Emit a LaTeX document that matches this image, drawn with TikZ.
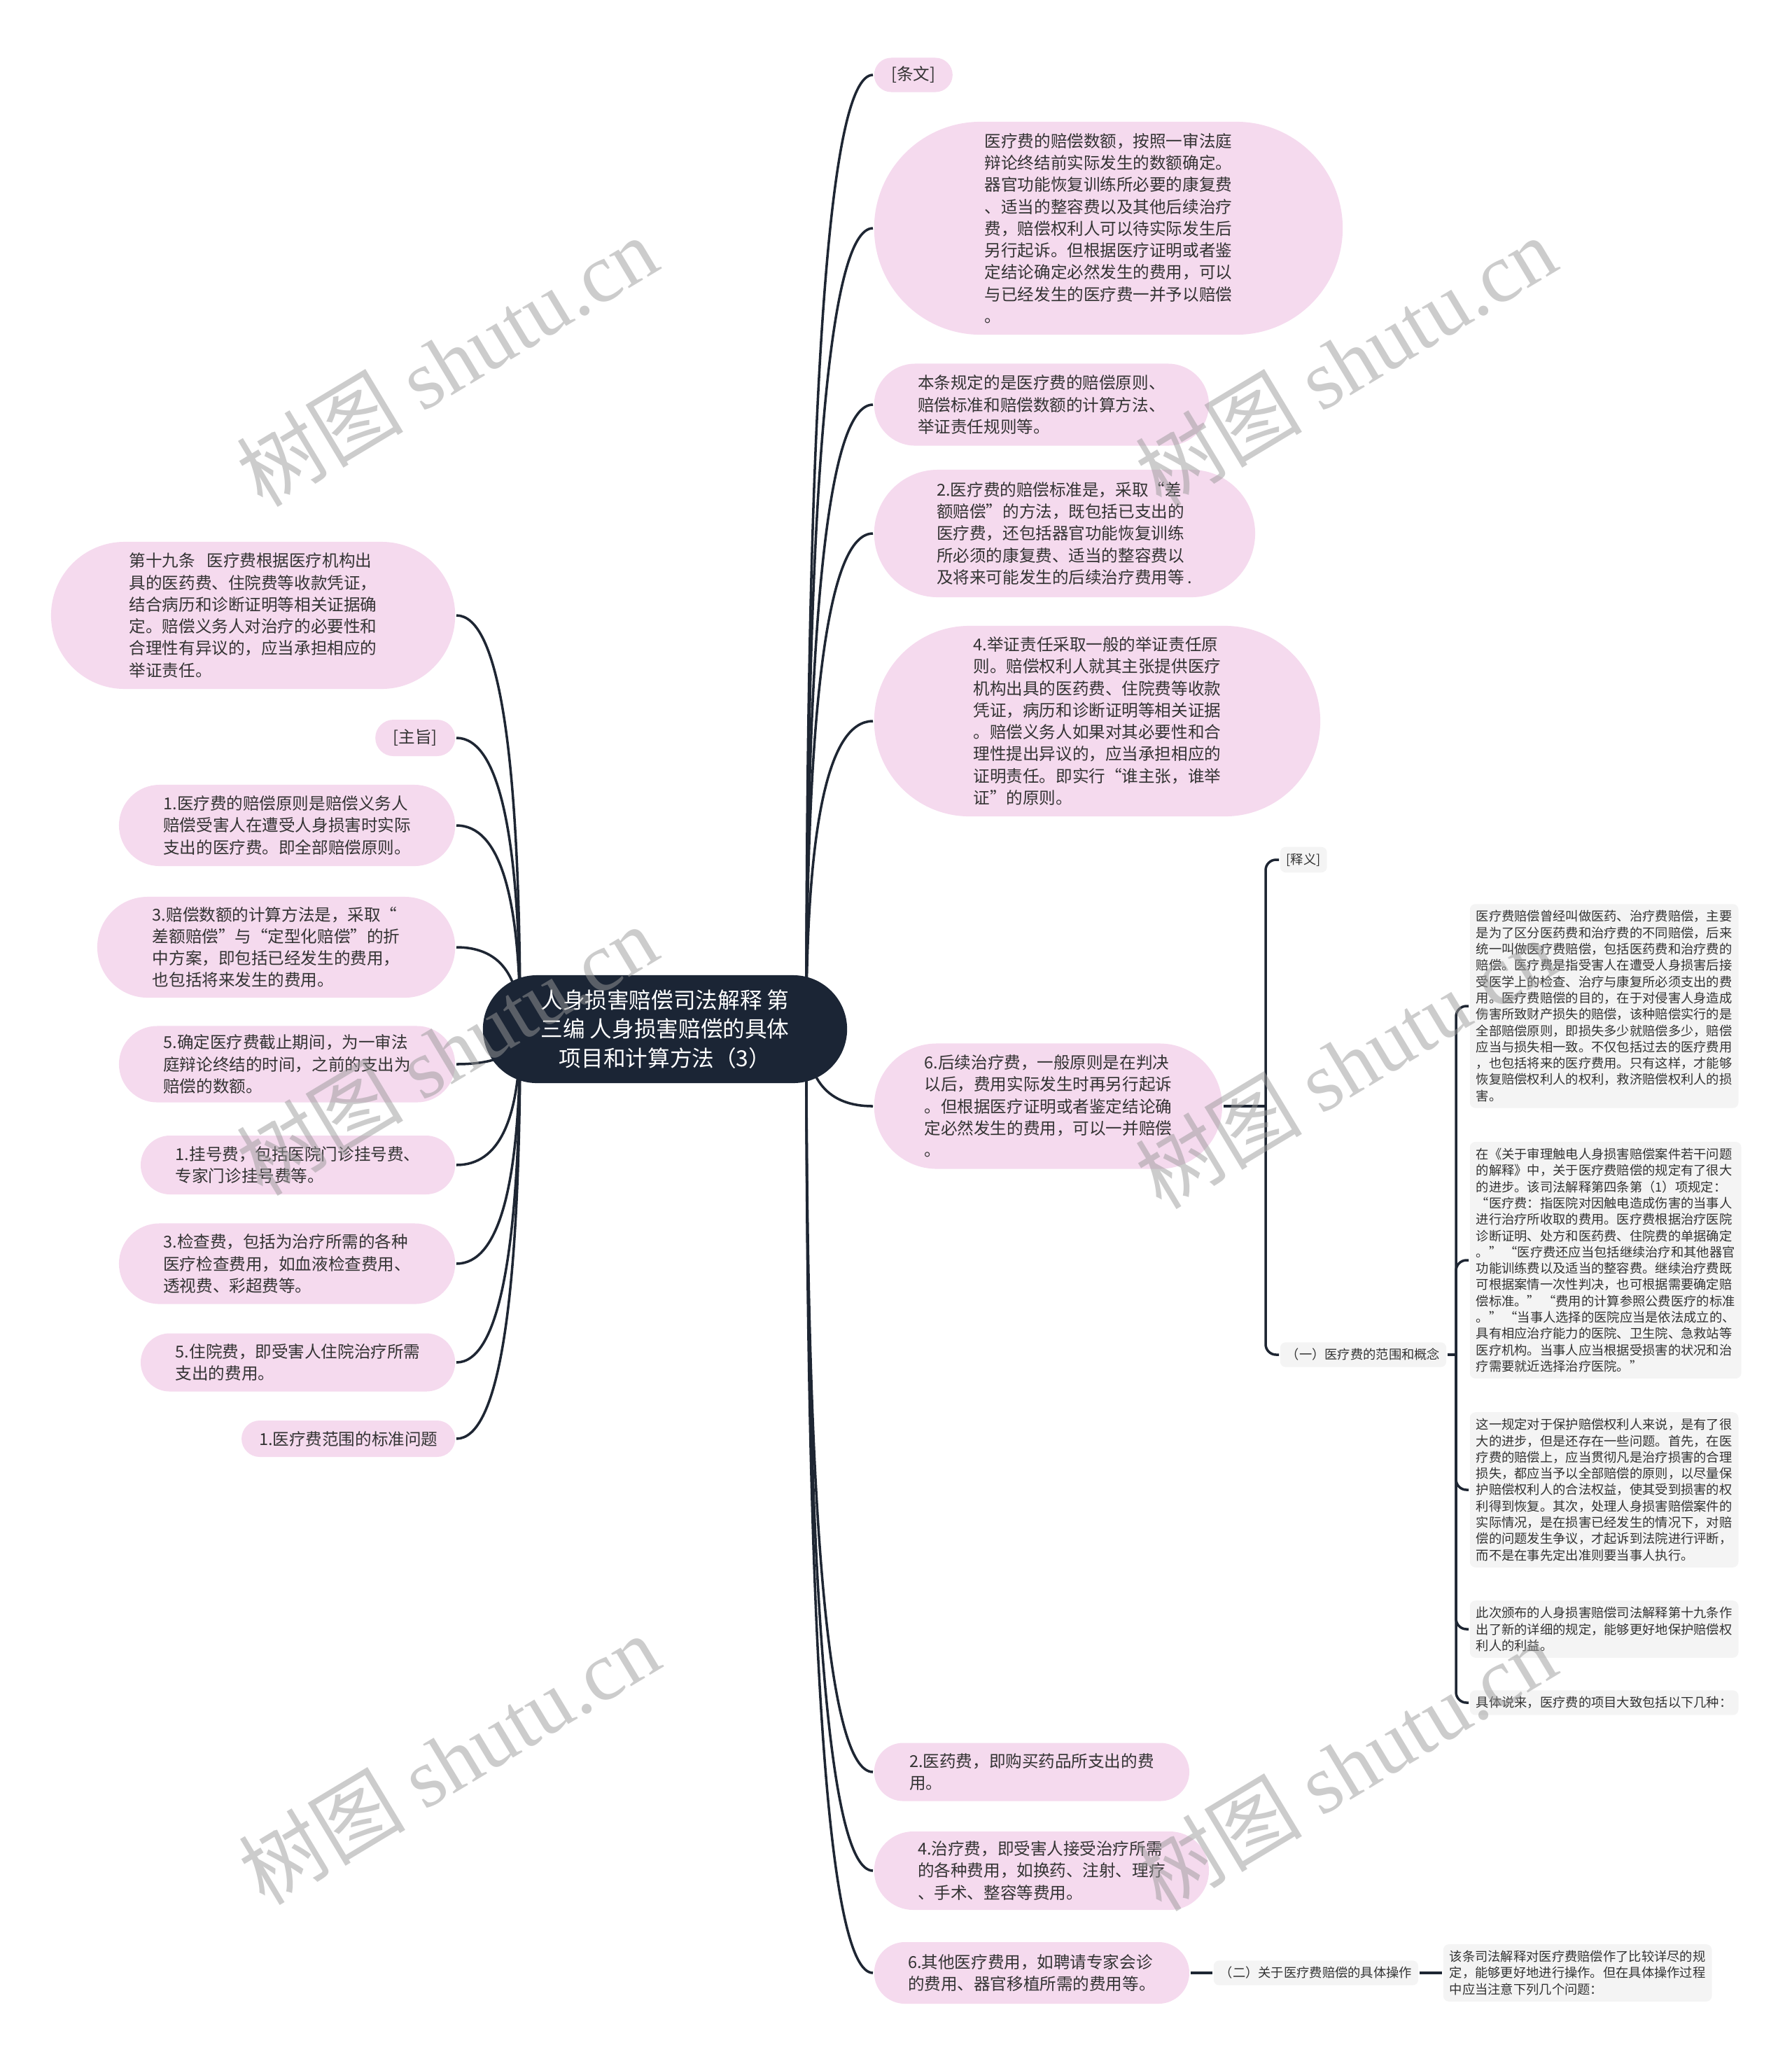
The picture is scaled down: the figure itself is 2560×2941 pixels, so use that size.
\documentclass[tikz,border=0pt]{standalone}
\usepackage{fontspec}
\setmainfont{Noto Sans CJK SC}
\newfontfamily\wmfont{Liberation Serif}
\usetikzlibrary{calc, backgrounds}
\definecolor{cpink}{HTML}{F5DAEE}
\definecolor{cgrey}{HTML}{F4F4F4}
\definecolor{cnavy}{HTML}{1B2535}
\definecolor{cline}{HTML}{1E2633}
\definecolor{ctext}{HTML}{333333}
\definecolor{cmark}{HTML}{9A9A9A}
\tikzset{
  every picture/.style={line width=1pt},
  hub/.style={fill=cnavy, text=white, rounded corners=0.77cm, align=center, font=\fontsize{9pt}{11.7pt}\selectfont},
  pill/.style={fill=cpink, rounded corners=#1, align=left, text=ctext, inner xsep=0pt, inner ysep=1pt, font=\fontsize{6.7pt}{8.9pt}\selectfont},
  gbox/.style={fill=cgrey, rounded corners=0.08cm, align=left, text=ctext, inner xsep=0.09cm, inner ysep=0.09cm, font=\fontsize{5.2pt}{6.63pt}\selectfont},
  link/.style={draw=cline, line width=1pt},
  wmark/.style={text=cmark, text opacity=0.5, rotate=31, font=\fontsize{34pt}{34pt}\selectfont},
}
\begin{document}
\begin{tikzpicture}[x=0.01cm, y=-0.01cm]
  \path[use as bounding box] (0,0) rectangle (2560,2941);
  % centre
  \node[hub, minimum width=5.2cm, minimum height=1.54cm] (root) at (950,1470) {人身损害赔偿司法解释 第\\三编 人身损害赔偿的具体\\项目和计算方法（3）};
  % right branch
  \node[pill=0.245cm, anchor=west, minimum width=1.12cm, minimum height=0.49cm] (r1) at (1247,107) {[条文]};
  \node[pill=1.52cm, anchor=west, minimum width=6.69cm, minimum height=3.04cm] (r2) at (1247,326) {医疗费的赔偿数额，按照一审法庭\\辩论终结前实际发生的数额确定。\\器官功能恢复训练所必要的康复费\\、适当的整容费以及其他后续治疗\\费，赔偿权利人可以待实际发生后\\另行起诉。但根据医疗证明或者鉴\\定结论确定必然发生的费用，可以\\与已经发生的医疗费一并予以赔偿\\。};
  \node[pill=0.585cm, anchor=west, minimum width=4.78cm, minimum height=1.17cm] (r3) at (1247,578) {本条规定的是医疗费的赔偿原则、\\赔偿标准和赔偿数额的计算方法、\\举证责任规则等。};
  \node[pill=0.91cm, anchor=west, minimum width=5.44cm, minimum height=1.82cm] (r4) at (1247,762) {2.医疗费的赔偿标准是，采取“差\\额赔偿”的方法，既包括已支出的\\医疗费，还包括器官功能恢复训练\\所必须的康复费、适当的整容费以\\及将来可能发生的后续治疗费用等 .};
  \node[pill=1.36cm, anchor=west, minimum width=6.37cm, minimum height=2.72cm] (r5) at (1247,1030) {4.举证责任采取一般的举证责任原\\则。赔偿权利人就其主张提供医疗\\机构出具的医药费、住院费等收款\\凭证，病历和诊断证明等相关证据\\。赔偿义务人如果对其必要性和合\\理性提出异议的，应当承担相应的\\证明责任。即实行“谁主张，谁举\\证”的原则。};
  \node[pill=0.895cm, anchor=west, minimum width=4.97cm, minimum height=1.79cm] (r6) at (1247,1580) {6.后续治疗费，一般原则是在判决\\以后，费用实际发生时再另行起诉\\。但根据医疗证明或者鉴定结论确\\定必然发生的费用，可以一并赔偿\\。};
  \node[pill=0.415cm, anchor=west, minimum width=4.5cm, minimum height=0.83cm] (r7) at (1247,2531) {2.医药费，即购买药品所支出的费\\用。};
  \node[pill=0.56cm, anchor=west, minimum width=4.78cm, minimum height=1.12cm] (r8) at (1247,2672) {4.治疗费，即受害人接受治疗所需\\的各种费用，如换药、注射、理疗\\、手术、整容等费用。};
  \node[pill=0.44cm, anchor=west, minimum width=4.5cm, minimum height=0.88cm] (r9) at (1247,2818) {6.其他医疗费用，如聘请专家会诊\\的费用、器官移植所需的费用等。};
  % left branch
  \node[pill=1.05cm, anchor=east, minimum width=5.77cm, minimum height=2.1cm] (l1) at (652,879) {第十九条\hspace{0.7em}医疗费根据医疗机构出\\具的医药费、住院费等收款凭证，\\结合病历和诊断证明等相关证据确\\定。赔偿义务人对治疗的必要性和\\合理性有异议的，应当承担相应的\\举证责任。};
  \node[pill=0.26cm, anchor=east, minimum width=1.14cm, minimum height=0.52cm] (l2) at (652,1054) {[主旨]};
  \node[pill=0.58cm, anchor=east, minimum width=4.8cm, minimum height=1.16cm] (l3) at (652,1179) {1.医疗费的赔偿原则是赔偿义务人\\赔偿受害人在遭受人身损害时实际\\支出的医疗费。即全部赔偿原则。};
  \node[pill=0.72cm, anchor=east, minimum width=5.11cm, minimum height=1.44cm] (l4) at (652,1353) {3.赔偿数额的计算方法是，采取“\\差额赔偿”与“定型化赔偿”的折\\中方案，即包括已经发生的费用，\\也包括将来发生的费用。};
  \node[pill=0.545cm, anchor=east, minimum width=4.8cm, minimum height=1.09cm] (l5) at (652,1520) {5.确定医疗费截止期间，为一审法\\庭辩论终结的时间，之前的支出为\\赔偿的数额。};
  \node[pill=0.42cm, anchor=east, minimum width=4.49cm, minimum height=0.84cm] (l6) at (652,1664) {1.挂号费，包括医院门诊挂号费、\\专家门诊挂号费等。};
  \node[pill=0.575cm, anchor=east, minimum width=4.8cm, minimum height=1.15cm] (l7) at (652,1805) {3.检查费，包括为治疗所需的各种\\医疗检查费用，如血液检查费用、\\透视费、彩超费等。};
  \node[pill=0.415cm, anchor=east, minimum width=4.49cm, minimum height=0.83cm] (l8) at (652,1946) {5.住院费，即受害人住院治疗所需\\支出的费用。};
  \node[pill=0.26cm, anchor=east, minimum width=3.05cm, minimum height=0.52cm] (l9) at (652,2055) {1.医疗费范围的标准问题};
  % notes on 6.
  \node[gbox, anchor=west] (s1) at (1827,1228) {[释义]};
  \node[gbox, anchor=west] (s2) at (1827,1935) {（一）医疗费的范围和概念};
  \node[gbox, anchor=west] (gA) at (2098,1437) {医疗费赔偿曾经叫做医药、治疗费赔偿，主要\\是为了区分医药费和治疗费的不同赔偿，后来\\统一叫做医疗费赔偿，包括医药费和治疗费的\\赔偿。医疗费是指受害人在遭受人身损害后接\\受医学上的检查、治疗与康复所必须支出的费\\用。医疗费赔偿的目的，在于对侵害人身造成\\伤害所致财产损失的赔偿，该种赔偿实行的是\\全部赔偿原则，即损失多少就赔偿多少，赔偿\\应当与损失相一致。不仅包括过去的医疗费用\\，也包括将来的医疗费用。只有这样，才能够\\恢复赔偿权利人的权利，救济赔偿权利人的损\\害。};
  \node[gbox, anchor=west] (gB) at (2098,1800) {在《关于审理触电人身损害赔偿案件若干问题\\的解释》中，关于医疗费赔偿的规定有了很大\\的进步。该司法解释第四条第（1）项规定：\\“医疗费：指医院对因触电造成伤害的当事人\\进行治疗所收取的费用。医疗费根据治疗医院\\诊断证明、处方和医药费、住院费的单据确定\\。” “医疗费还应当包括继续治疗和其他器官\\功能训练费以及适当的整容费。继续治疗费既\\可根据案情一次性判决，也可根据需要确定赔\\偿标准。” “费用的计算参照公费医疗的标准\\。” “当事人选择的医院应当是依法成立的、\\具有相应治疗能力的医院、卫生院、急救站等\\医疗机构。当事人应当根据受损害的状况和治\\疗需要就近选择治疗医院。”};
  \node[gbox, anchor=west] (gC) at (2098,2128) {这一规定对于保护赔偿权利人来说，是有了很\\大的进步，但是还存在一些问题。首先，在医\\疗费的赔偿上，应当贯彻凡是治疗损害的合理\\损失，都应当予以全部赔偿的原则，以尽量保\\护赔偿权利人的合法权益，使其受到损害的权\\利得到恢复。其次，处理人身损害赔偿案件的\\实际情况，是在损害已经发生的情况下，对赔\\偿的问题发生争议，才起诉到法院进行评断，\\而不是在事先定出准则要当事人执行。};
  \node[gbox, anchor=west] (gD) at (2098,2327) {此次颁布的人身损害赔偿司法解释第十九条作\\出了新的详细的规定，能够更好地保护赔偿权\\利人的利益。};
  \node[gbox, anchor=west] (gE) at (2098,2432) {具体说来，医疗费的项目大致包括以下几种：};
  % notes on 6. other costs
  \node[gbox, anchor=west] (t2) at (1732,2818) {（二）关于医疗费赔偿的具体操作};
  \node[gbox, anchor=west] (gF) at (2060,2818) {该条司法解释对医疗费赔偿作了比较详尽的规\\定，能够更好地进行操作。但在具体操作过程\\中应当注意下列几个问题：};
  % connectors
  \begin{scope}[on background layer]
    \coordinate (rs) at ([xshift=-0.6cm]root.east);
    \coordinate (ls) at ([xshift=0.55cm]root.west);
    \foreach \c in {r1,r2,r3,r4,r5,r6,r7,r8,r9}
      \draw[link] (rs) .. controls ($(rs)!.667!(rs |- \c.west)$) and ($(\c.west)!.667!(rs |- \c.west)$) .. (\c.west);
    \foreach \c in {l1,l2,l3,l4,l5,l6,l7,l8,l9}
      \draw[link] (ls) .. controls ($(ls)!.667!(ls |- \c.east)$) and ($(\c.east)!.667!(ls |- \c.east)$) .. (\c.east);
    \coordinate (b1) at (1808,1580);
    \coordinate (b2) at (2080,1935);
    \draw[link] (r6.east) -- (b1);
    \foreach \c in {s1,s2} \draw[link, rounded corners=0.15cm] (b1) |- (\c.west);
    \draw[link] (s2.east) -- (b2);
    \foreach \c in {gA,gB,gC,gD,gE} \draw[link, rounded corners=0.15cm] (b2) |- (\c.west);
    \draw[link] (r9.east) -- (t2.west);
    \draw[link] (t2.east) -- (gF.west);
  \end{scope}
  % watermarks
  \node[wmark] (w1) at (638,516) {树图 {\wmfont shutu.cn}};
  \node[wmark] (w2) at (1922,516) {树图 {\wmfont shutu.cn}};
  \node[wmark] (w3) at (638,1500) {树图 {\wmfont shutu.cn}};
  \node[wmark] (w4) at (1922,1519) {树图 {\wmfont shutu.cn}};
  \node[wmark] (w5) at (641,2513) {树图 {\wmfont shutu.cn}};
  \node[wmark] (w6) at (1922,2522) {树图 {\wmfont shutu.cn}};
\end{tikzpicture}
\end{document}
